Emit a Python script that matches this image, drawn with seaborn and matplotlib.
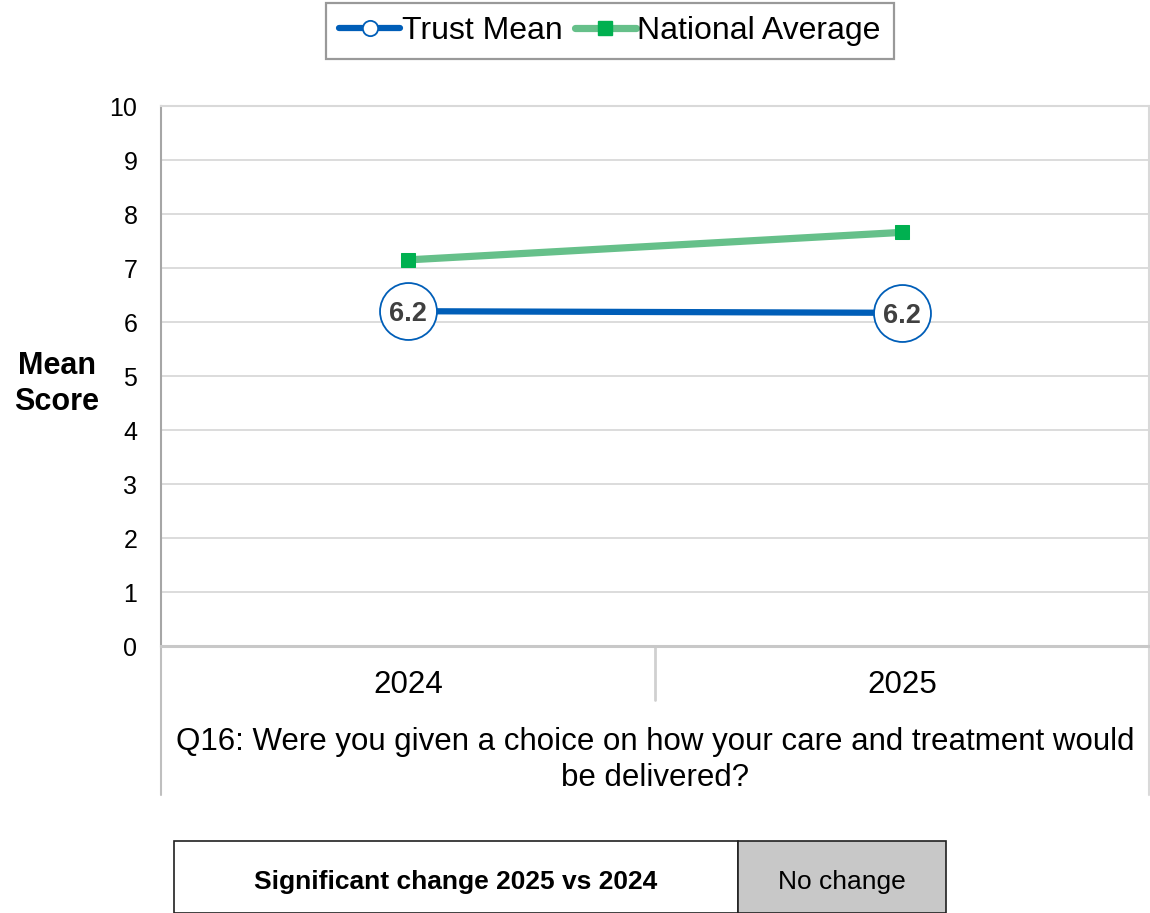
import matplotlib
matplotlib.use("Agg")
import matplotlib.pyplot as plt
from matplotlib.lines import Line2D
from matplotlib.patches import Rectangle
import seaborn as sns
import pandas as pd

# Survey results
years = ["2024", "2025"]
trust_mean = [6.20, 6.17]
national_avg = [7.15, 7.66]
y_ticks = [0, 1, 2, 3, 4, 5, 6, 7, 8, 9, 10]
question = "Q16: Were you given a choice on how your care and treatment would\nbe delivered?"
change_label = "Significant change 2025 vs 2024"
change_value = "No change"

TRUST_BLUE = "#005EB8"
NAT_LINE = "#66C08A"
NAT_MARK = "#00B050"
GRID = "#D9D9D9"

sns.set_theme(style="white")
plt.rcParams["font.family"] = ["Liberation Sans", "DejaVu Sans"]
plt.rcParams["text.color"] = "black"

W, H = 1150, 913
fig = plt.figure(figsize=(W / 100, H / 100), dpi=100)
ax = fig.add_axes([161 / W, (H - 646) / H, 988 / W, 540 / H])

pos = list(range(len(years)))
df = pd.DataFrame({"pos": pos, "year": years, "trust": trust_mean, "national": national_avg})

sns.lineplot(data=df, x="pos", y="national", ax=ax, color=NAT_LINE, linewidth=5.2,
             marker="s", markersize=10, markerfacecolor=NAT_MARK, markeredgecolor=NAT_MARK,
             zorder=3)
sns.lineplot(data=df, x="pos", y="trust", ax=ax, color=TRUST_BLUE, linewidth=4.5,
             marker="o", markersize=41, markerfacecolor="white", markeredgecolor=TRUST_BLUE,
             markeredgewidth=1.3, zorder=4)

for x, v in zip(pos, trust_mean):
    ax.text(x, v, f"{v:.1f}", ha="center", va="center_baseline", fontsize=19.5,
            fontweight="bold", color="#404040", zorder=5)

ax.set_xlim(-0.5, len(years) - 0.5)
ax.set_ylim(0, 10)
ax.set_yticks(y_ticks)
ax.set_yticklabels([str(t) for t in y_ticks], fontsize=18, color="black")
ax.set_xticks(pos)
ax.set_xticklabels(years, fontsize=22.5, color="black")
ax.tick_params(axis="y", length=0, pad=17)
ax.tick_params(axis="x", length=0, pad=17)
ax.set_xlabel("")
ax.set_ylabel("")
ax.grid(axis="y", color=GRID, linewidth=1.3)
ax.grid(axis="x", visible=False)
ax.set_axisbelow(True)

for side in ["top", "right"]:
    ax.spines[side].set_color(GRID)
    ax.spines[side].set_linewidth(1.5)
ax.spines["left"].set_color("#A6A6A6")
ax.spines["left"].set_linewidth(1.5)
ax.spines["bottom"].set_color("#C8C8C8")
ax.spines["bottom"].set_linewidth(2.2)

# category separators and frame below the axis
depth = -(795 - 646) / 540
ax.plot([0, 0], [0, depth], transform=ax.transAxes, clip_on=False, color="#BFBFBF", lw=1.5)
ax.plot([1, 1], [0, depth], transform=ax.transAxes, clip_on=False, color=GRID, lw=1.5)
ax.plot([0.5, 0.5], [0, -(700 - 646) / 540], transform=ax.transAxes, clip_on=False,
        color="#D0D0D0", lw=2)

fig.text(655 / W, 1 - 760 / H, question, ha="center", va="center", fontsize=22.5,
         linespacing=1.25, color="black")
fig.text(57 / W, 1 - 384 / H, "Mean\nScore", ha="center", va="center", fontsize=22,
         fontweight="bold", linespacing=1.3, color="black")

handles = [
    Line2D([], [], color=TRUST_BLUE, lw=4.5, marker="o", markersize=11,
           markerfacecolor="white", markeredgecolor=TRUST_BLUE, markeredgewidth=1.3),
    Line2D([], [], color=NAT_LINE, lw=5.2, marker="s", markersize=10,
           markerfacecolor=NAT_MARK, markeredgecolor=NAT_MARK),
]
leg = fig.legend(handles, ["Trust Mean", "National Average"], loc="upper center",
                 bbox_to_anchor=(610 / W, 1 - 3 / H), ncol=2, fontsize=23,
                 frameon=True, fancybox=False, handlelength=1.9, handletextpad=0.05,
                 columnspacing=0.4, borderpad=0.4, borderaxespad=0)
leg.get_frame().set_edgecolor("#808080")
leg.get_frame().set_linewidth(1.6)
for t in leg.get_texts():
    t.set_color("black")

# significance table
fig.patches.append(Rectangle((174 / W, 0), (738 - 174) / W, (913 - 841) / H,
                             transform=fig.transFigure, facecolor="white",
                             edgecolor="#202020", lw=1.2))
fig.patches.append(Rectangle((738 / W, 0), (946 - 738) / W, (913 - 841) / H,
                             transform=fig.transFigure, facecolor="#C8C8C8",
                             edgecolor="#202020", lw=1.2))
fig.text(456 / W, 1 - 882 / H, change_label, ha="center", va="center", fontsize=19,
         fontweight="bold", color="black")
fig.text(842 / W, 1 - 882 / H, change_value, ha="center", va="center", fontsize=19,
         color="black")

fig.savefig("out.png", dpi=100)
